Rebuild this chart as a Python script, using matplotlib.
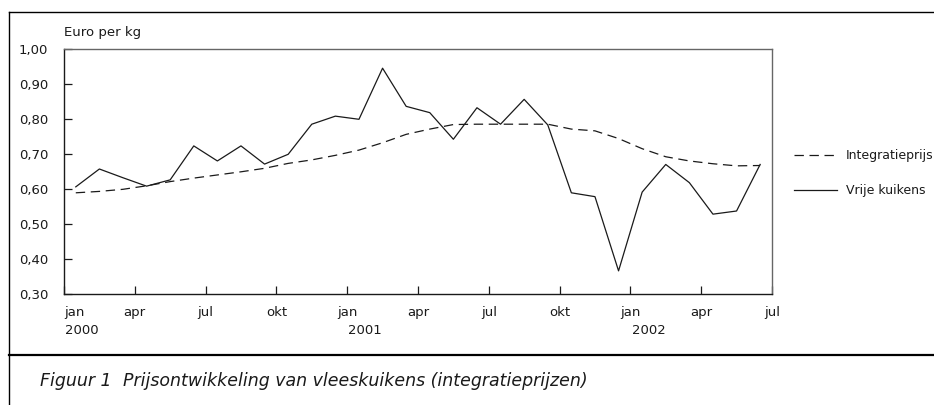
import numpy as np
import matplotlib.pyplot as plt
from matplotlib.lines import Line2D
from matplotlib import font_manager

# monthly prices, jan 2000 .. jun 2002 (plotted mid-month)
vrije = [0.607, 0.658, 0.633, 0.609, 0.627, 0.724, 0.681, 0.724, 0.672, 0.700,
         0.786, 0.809, 0.800, 0.946, 0.837, 0.819, 0.743, 0.833, 0.786, 0.857,
         0.784, 0.590, 0.579, 0.367, 0.592, 0.671, 0.619, 0.529, 0.538, 0.671]
integratie = [0.590, 0.594, 0.600, 0.610, 0.622, 0.632, 0.641, 0.650, 0.660, 0.674,
              0.684, 0.697, 0.712, 0.733, 0.757, 0.772, 0.785, 0.786, 0.786, 0.786,
              0.786, 0.772, 0.767, 0.745, 0.716, 0.693, 0.681, 0.673, 0.667, 0.668]
months = np.arange(len(vrije)) + 0.5

tick_pos = np.arange(0, 31, 3)
tick_labels = ['jan', 'apr', 'jul', 'okt', 'jan', 'apr', 'jul', 'okt', 'jan', 'apr', 'jul']
years = ['2000', '2001', '2002']
year_pos = [0, 12, 24]
y_ticks = [0.3, 0.4, 0.5, 0.6, 0.7, 0.8, 0.9, 1.0]
y_labels = ['0,30', '0,40', '0,50', '0,60', '0,70', '0,80', '0,90', '1,00']

names = {f.name for f in font_manager.fontManager.ttflist}
cap_font = ['Liberation Sans Narrow', 'DejaVu Sans'] if 'Liberation Sans Narrow' in names else ['DejaVu Sans']

plt.rcParams['font.family'] = ['DejaVu Sans']
ink = '#1a1a1a'
fs = 9.5

fig = plt.figure(figsize=(9.34, 4.05), dpi=100)
ax = fig.add_axes([0.0685, 0.2733, 0.758, 0.605])

l1, = ax.plot(months, integratie, color=ink, lw=0.9, dashes=(7.5, 4.5),
              label='Integratieprijs')
l2, = ax.plot(months, vrije, color=ink, lw=0.9, label='Vrije kuikens')

ax.set_xlim(0, 30)
ax.set_ylim(0.3, 1.0)
ax.set_xticks(tick_pos)
ax.set_xticklabels(tick_labels)
ax.set_yticks(y_ticks)
ax.set_yticklabels(y_labels)
ax.tick_params(axis='both', direction='in', length=6, width=0.9, color=ink,
               labelsize=fs, labelcolor=ink)
ax.tick_params(axis='x', pad=8.5)
ax.tick_params(axis='y', pad=11.5)
ax.get_xticklabels()[0].set_ha('left')

for s in ['left', 'bottom']:
    ax.spines[s].set_color(ink)
    ax.spines[s].set_linewidth(1.0)
for s in ['top', 'right']:
    ax.spines[s].set_color('#666666')
    ax.spines[s].set_linewidth(1.0)

for yr, xp in zip(years, year_pos):
    ax.text(xp + 0.05, -0.147, yr, transform=ax.get_xaxis_transform(),
            ha='left', va='center', fontsize=fs, color=ink)

ax.text(0, 1.07, 'Euro per kg', transform=ax.transAxes, ha='left', va='center',
        fontsize=fs, color=ink)

ax.legend(handles=[l1, l2], loc='upper left', bbox_to_anchor=(0.850, 0.631),
          bbox_transform=fig.transFigure, frameon=False, fontsize=9,
          handlelength=3.44, handletextpad=0.70, labelspacing=1.75,
          borderpad=0, borderaxespad=0, labelcolor=ink)

# frame around the figure
fig.add_artist(Line2D([0.0100, 1.0], [0.971, 0.971], color='black', lw=1.0))
fig.add_artist(Line2D([0.0100, 0.0100], [0.0, 0.971], color='black', lw=1.0))
fig.add_artist(Line2D([0.0100, 1.0], [0.124, 0.124], color='black', lw=1.6))

fig.text(0.043, 0.059, 'Figuur 1', family=cap_font, style='italic',
         fontsize=12.5, color=ink, va='center', ha='left')
fig.text(0.132, 0.059, 'Prijsontwikkeling van vleeskuikens (integratieprijzen)',
         family=cap_font, style='italic', fontsize=12.5, color=ink,
         va='center', ha='left')

fig.savefig('out.png', dpi=100)
